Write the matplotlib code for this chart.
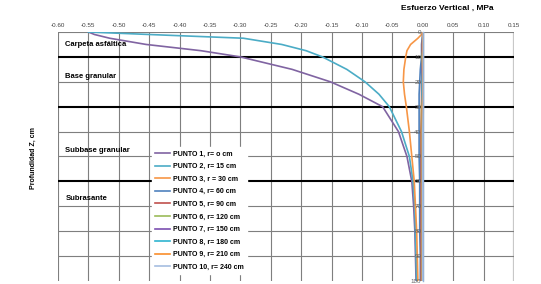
import matplotlib.pyplot as plt

plt.rcParams['font.family'] = ['Liberation Sans', 'DejaVu Sans']

depth = [0, 1, 2.5, 5, 7.5, 10, 15, 20, 25, 30, 40, 50, 60, 70, 80, 90, 100]

p1 = [-0.55, -0.54, -0.515, -0.455, -0.365, -0.30, -0.215, -0.152, -0.105, -0.066, -0.040, -0.026, -0.018, -0.015, -0.013, -0.012, -0.011]
p2 = [-0.55, -0.45, -0.295, -0.232, -0.192, -0.165, -0.125, -0.095, -0.072, -0.055, -0.035, -0.022, -0.016, -0.013, -0.012, -0.011, -0.010]
p3 = [0.0, -0.002, -0.008, -0.020, -0.026, -0.028, -0.031, -0.032, -0.030, -0.027, -0.022, -0.018, -0.014, -0.012, -0.010, -0.009, -0.008]
p4 = [0.001, 0.000, -0.001, -0.002, -0.002, -0.002, -0.004, -0.005, -0.006, -0.006, -0.006, -0.006, -0.005, -0.005, -0.005, -0.004, -0.004]
p5 = [0.000, 0.000, 0.000, -0.001, -0.001, -0.001, -0.001, -0.002, -0.002, -0.002, -0.003, -0.003, -0.003, -0.003, -0.003, -0.003, -0.003]
p6 = [0.000, 0.000, 0.000, 0.000, 0.000, -0.001, -0.001, -0.001, -0.001, -0.002, -0.002, -0.002, -0.002, -0.002, -0.002, -0.002, -0.002]
p7 = [0.000, 0.000, 0.000, 0.000, 0.000, 0.000, -0.001, -0.001, -0.001, -0.001, -0.001, -0.002, -0.002, -0.002, -0.002, -0.002, -0.002]
p8 = [0.000, 0.000, 0.000, 0.000, 0.000, 0.000, 0.000, -0.001, -0.001, -0.001, -0.001, -0.001, -0.001, -0.001, -0.001, -0.001, -0.001]
p9 = [0.000, 0.000, 0.000, 0.000, 0.000, 0.000, 0.000, 0.000, 0.000, -0.001, -0.001, -0.001, -0.001, -0.001, -0.001, -0.001, -0.001]
p10 = [0.001, 0.001, 0.001, 0.001, 0.001, 0.001, 0.001, 0.001, 0.001, 0.001, 0.000, 0.000, 0.000, 0.000, 0.000, 0.000, 0.000]

series = [p1, p2, p3, p4, p5, p6, p7, p8, p9, p10]
labels = ['PUNTO 1, r= o cm', 'PUNTO 2, r= 15 cm', 'PUNTO 3, r = 30 cm', 'PUNTO 4, r= 60 cm',
          'PUNTO 5, r= 90 cm', 'PUNTO 6, r= 120 cm', 'PUNTO 7, r= 150 cm', 'PUNTO 8, r= 180 cm',
          'PUNTO 9, r= 210 cm', 'PUNTO 10, r= 240 cm']
colors = ['#8064A2', '#4BACC6', '#F79646', '#4F81BD', '#C0504D', '#9BBB59',
          '#7B4FB0', '#2FB4CF', '#F98E2B', '#A6BDE0']

x_ticks = [-0.60, -0.55, -0.50, -0.45, -0.40, -0.35, -0.30, -0.25, -0.20, -0.15,
           -0.10, -0.05, 0.00, 0.05, 0.10, 0.15]
y_ticks = [0, 10, 20, 30, 40, 50, 60, 70, 80, 90, 100]
layer_bounds = [10, 30, 60]
layers = ['Carpeta asfáltica', 'Base granular', 'Subbase granular', 'Subrasante']
layer_y = [5.2, 17.7, 47.4, 67]

fig = plt.figure(figsize=(5.41, 2.84), dpi=100)
ax = fig.add_axes([0.1072, 0.0106, 0.8428, 0.8767])

ax.set_xlim(-0.60, 0.15)
ax.set_ylim(100, 0)

# grid
for xv in x_ticks[:-1]:
    ax.axvline(xv, color='#7f7f7f', lw=0.8, zorder=1)
ax.axvline(0.15, color='#c8c8c8', lw=1.6, zorder=1)
for yv in y_ticks:
    if yv in layer_bounds:
        ax.axhline(yv, color='black', lw=1.5, zorder=1)
    elif yv != 100:
        ax.axhline(yv, color='#7f7f7f', lw=0.8, zorder=1)

for s, lab, c in zip(series, labels, colors):
    ax.plot(s, depth, color=c, lw=1.2, label=lab, zorder=2)

for name, yv in zip(layers, layer_y):
    ax.text(-0.588, yv, name, fontsize=5.5, fontweight='bold', va='center', ha='left', zorder=2)

for sp in ['top', 'right', 'bottom']:
    ax.spines[sp].set_visible(False)
ax.spines['left'].set_position(('data', 0))
ax.spines['left'].set_color('#95B3D7')
ax.spines['left'].set_linewidth(1.0)
ax.set_axisbelow(False)

ax.xaxis.tick_top()
ax.set_xticks(x_ticks)
ax.set_xticklabels(['%.2f' % v for v in x_ticks])
ax.tick_params(axis='x', length=0, labelsize=4.5, labelcolor='#404040', pad=3)
ax.set_yticks(y_ticks)
ax.tick_params(axis='y', length=0, labelsize=4.5, labelcolor='#606060', pad=1)

fig.text(0.826, 0.972, 'Esfuerzo Vertical , MPa', fontsize=6, fontweight='bold', ha='center', va='center')
fig.text(0.061, 0.445, 'Profundidad Z, cm', fontsize=5, fontweight='bold', rotation=90, ha='center', va='center')

leg = ax.legend(loc='upper left', bbox_to_anchor=(0.274, 0.494), bbox_transform=fig.transFigure,
                prop={'size': 5, 'weight': 'bold'}, frameon=True, fancybox=False,
                handlelength=2.2, handletextpad=0.3, labelspacing=0.8, borderpad=0.5)
leg.get_frame().set_edgecolor('white')
leg.get_frame().set_alpha(1)
leg.set_zorder(5)

plt.savefig('out.png', dpi=100)
plt.close()
